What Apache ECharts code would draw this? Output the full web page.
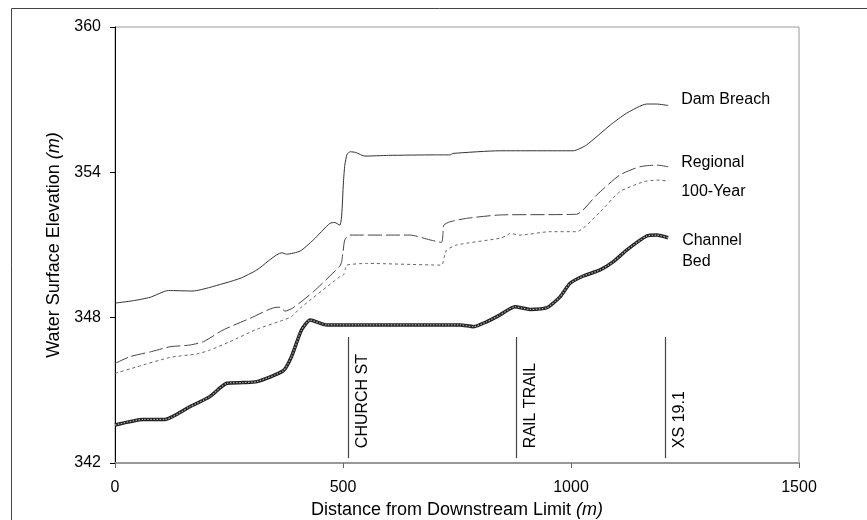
<!DOCTYPE html>
<html>
<head>
<meta charset="utf-8">
<script src="https://cdn.jsdelivr.net/npm/echarts@6/dist/echarts.min.js"></script>
<style>html,body{margin:0;padding:0;background:#fff}#c{width:867px;height:520px}</style>
</head>
<body>
<div id="c"></div>
<script>
// distance (m), elevation (m)
var damBreach = [[0,348.6],[40,348.7],[77,348.84],[117,349.12],[171,349.1],[208,349.25],[274,349.62],[311,349.97],[366,350.68],[376,350.62],[406,350.75],[435,351.21],[471,351.89],[482,351.93],[493,351.82],[497,352.2],[501,353.6],[504,354.3],[509,354.75],[516,354.85],[528,354.82],[548,354.67],[600,354.7],[700,354.72],[735,354.72],[741,354.78],[844,354.89],[1005,354.89],[1034,355.13],[1086,355.95],[1122,356.44],[1166,356.82],[1188,356.82],[1213,356.76]];
var regional = [[0,346.11],[33,346.39],[80,346.6],[121,346.8],[164,346.87],[194,347.01],[237,347.49],[296,347.97],[355,348.43],[362,348.43],[373,348.27],[390,348.4],[435,349.07],[493,350.13],[497,350.31],[500,350.7],[504,351.21],[515,351.41],[610,351.41],[647,351.41],[691,351.21],[716,351.11],[719,351.4],[721,351.82],[735,351.96],[771,352.1],[844,352.24],[1012,352.27],[1056,353.06],[1107,353.89],[1151,354.23],[1188,354.3],[1213,354.23]];
var hundredYear = [[0,345.7],[48,345.97],[121,346.36],[179,346.5],[208,346.66],[252,347.01],[311,347.52],[369,347.9],[387,348.04],[406,348.39],[493,349.69],[501,349.76],[505,350.0],[508,350.17],[552,350.24],[716,350.17],[722,350.5],[727,350.79],[749,351.0],[844,351.28],[860,351.4],[866,351.48],[888,351.41],[954,351.55],[1012,351.55],[1064,352.37],[1107,353.2],[1159,353.61],[1188,353.68],[1213,353.64]];
var channelBed = [[0,343.57],[62,343.8],[110,343.8],[164,344.32],[208,344.74],[245,345.29],[281,345.32],[311,345.36],[369,345.81],[387,346.39],[409,347.49],[428,347.9],[450,347.77],[464,347.7],[757,347.7],[786,347.63],[815,347.83],[844,348.11],[877,348.45],[910,348.34],[947,348.41],[976,348.86],[998,349.42],[1027,349.72],[1064,349.97],[1093,350.31],[1122,350.79],[1166,351.37],[1188,351.41],[1213,351.3]];
var markers = [['CHURCH ST',512],['RAIL TRAIL',881],['XS 19.1',1207]];
var markerRange = [342.2,347.2];
var yTicks = [342,348,354,360];
var xTicks = [0,500,1000,1500];

var FONT = '"Liberation Sans", Arial, sans-serif';
var chart = echarts.init(document.getElementById('c'));
var markData = markers.map(function(m){
  return [{name:m[0], coord:[m[1],markerRange[0]]},{coord:[m[1],markerRange[1]]}];
});
function endLbl(text, off){
  return {show:true, formatter:text, offset:off, fontSize:16, fontFamily:FONT, color:'#000', lineHeight:21, align:'left'};
}
chart.setOption({
  animation:false,
  backgroundColor:'#fff',
  textStyle:{fontFamily:FONT},
  graphic:[{type:'rect', shape:{x:11.5,y:8.5,width:900,height:600}, style:{fill:'none',stroke:'#444',lineWidth:1}, z:-10, silent:true}],
  grid:{left:115, right:68, top:27, bottom:57, show:true, borderColor:'#999', borderWidth:1, containLabel:false, outerBoundsMode:'none'},
  xAxis:{type:'value', min:xTicks[0], max:xTicks[xTicks.length-1], interval:500,
    name:'Distance from Downstream Limit {i|(m)}', nameLocation:'middle', nameGap:34,
    nameTextStyle:{fontSize:18, color:'#000', fontFamily:FONT, rich:{i:{fontStyle:'italic',fontSize:18,fontFamily:FONT,color:'#000'}}},
    axisLine:{lineStyle:{color:'#999',width:2}},
    axisTick:{show:true, inside:false, length:5, lineStyle:{color:'#666'}},
    axisLabel:{fontSize:16, color:'#000', margin:17, fontFamily:FONT, formatter:function(v){return String(v);}},
    splitLine:{show:false}},
  yAxis:{type:'value', min:yTicks[0], max:yTicks[yTicks.length-1], interval:6,
    name:'Water Surface Elevation {i|(m)}', nameLocation:'middle', nameGap:50,
    nameTextStyle:{fontSize:18, color:'#000', fontFamily:FONT, rich:{i:{fontStyle:'italic',fontSize:18,fontFamily:FONT,color:'#000'}}},
    axisLine:{show:true, lineStyle:{color:'#000',width:1}},
    axisTick:{show:true, length:5, lineStyle:{color:'#000'}},
    axisLabel:{fontSize:16, color:'#000', margin:14, fontFamily:FONT},
    splitLine:{show:false}},
  series:[
    {name:'Dam Breach', type:'line', data:damBreach, symbol:'none', smooth:0.2,
      lineStyle:{color:'#333', width:1},
      endLabel:endLbl('Dam Breach',[5,-6]),
      markLine:{silent:true, symbol:'none', animation:false,
        lineStyle:{color:'#444', width:1.2, type:'solid'},
        label:{show:true, formatter:'{b}', position:'insideStartBottom', fontSize:16, color:'#000', fontFamily:FONT, distance:[10,6]},
        data:markData}},
    {name:'Regional', type:'line', data:regional, symbol:'none', smooth:0.2,
      lineStyle:{color:'#444', width:1, type:[14,4]},
      endLabel:endLbl('Regional',[5,-4])},
    {name:'100-Year', type:'line', data:hundredYear, symbol:'none', smooth:0.2,
      lineStyle:{color:'#666', width:1, type:[3,3]},
      endLabel:endLbl('100-Year',[5,11])},
    {name:'Channel Bed', type:'line', data:channelBed, symbol:'none', smooth:0.2,
      lineStyle:{color:'#222', width:3.5},
      endLabel:endLbl('Channel\nBed',[6,13])},
    {name:'Channel Bed beads', type:'line', data:channelBed, symbol:'none', smooth:0.2,
      lineStyle:{color:'#aaa', width:1.2, type:[1.5,1.5]}}
  ]
});
</script>
</body>
</html>
